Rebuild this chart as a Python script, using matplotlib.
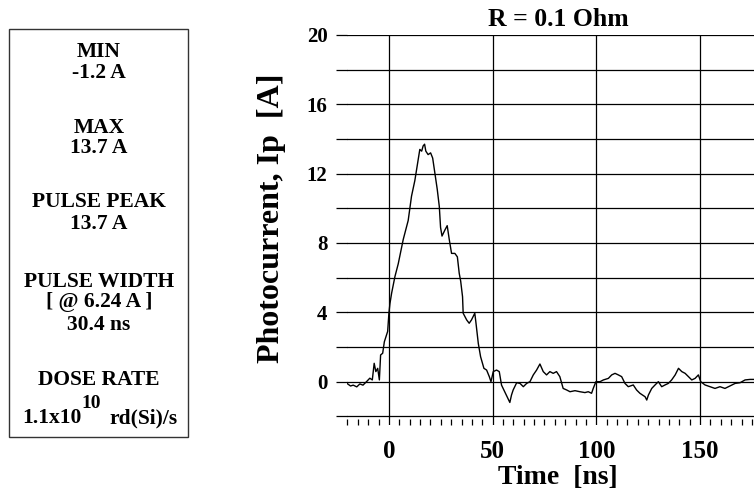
import matplotlib
matplotlib.use("Agg")
import matplotlib.pyplot as plt
from matplotlib.patches import Rectangle
from matplotlib.ticker import MultipleLocator, FixedLocator

plt.rcParams['font.family'] = 'Liberation Serif'
plt.rcParams['font.weight'] = 'bold'

# photocurrent trace
time_ns = [-20.2, -18.5, -17.2, -15.5, -14.0, -12.5, -10.8, -9.2, -8.0, -7.1,
           -6.3, -5.4, -4.6, -4.0, -3.0, -2.2, -1.4, -0.6, 0.0, 0.5,
           1.3, 2.9, 4.5, 6.9, 9.3, 10.9, 12.5, 14.1, 14.9, 15.8,
           16.5, 17.2, 17.8, 18.9, 20.1, 21.1, 22.2, 23.3, 24.3, 24.9,
           25.6, 27.0, 28.1, 29.1, 30.2, 31.8, 33.0, 33.9, 34.6, 35.5,
           35.8, 37.5, 38.7, 39.8, 41.4, 41.9, 43.1, 44.2, 45.8, 47.1,
           48.4, 49.2, 50.3, 51.9, 53.2, 54.3, 55.9, 57.5, 58.3, 59.1,
           59.9, 61.6, 63.2, 64.8, 66.4, 68.0, 69.6, 71.2, 72.8, 74.4,
           76.0, 77.6, 79.2, 80.8, 82.4, 84.0, 85.7, 87.3, 89.7, 92.1,
           94.5, 96.1, 97.7, 98.5, 99.8, 101.8, 103.4, 105.8, 107.4, 109.0,
           110.6, 112.2, 113.8, 115.4, 117.8, 119.4, 121.0, 123.5, 124.3, 125.1,
           126.7, 128.3, 129.9, 131.5, 133.1, 134.7, 136.3, 138.0, 139.6, 141.2,
           142.8, 144.4, 146.0, 147.6, 149.2, 150.3, 152.4, 154.8, 157.2, 159.6,
           162.0, 164.4, 166.9, 169.3, 171.7, 174.1, 176.0]
current_a = [-0.1, -0.25, -0.2, -0.3, -0.13, -0.2, 0.0, 0.2, 0.1, 1.06,
             0.58, 0.77, 0.1, 1.54, 1.64, 2.3, 2.6, 2.9, 3.95, 4.5,
             5.1, 6.06, 6.8, 8.2, 9.3, 10.7, 11.6, 12.8, 13.4, 13.3,
             13.6, 13.7, 13.3, 13.1, 13.2, 12.9, 12.0, 11.1, 10.1, 8.9,
             8.4, 8.75, 9.0, 8.2, 7.4, 7.4, 7.2, 6.25, 5.8, 4.9,
             3.95, 3.56, 3.37, 3.56, 3.95, 3.46, 2.2, 1.44, 0.77, 0.67,
             0.29, 0.0, 0.58, 0.67, 0.58, -0.2, -0.6, -1.0, -1.2, -0.77,
             -0.48, -0.06, -0.1, -0.29, -0.1, 0.0, 0.39, 0.67, 1.02, 0.58,
             0.39, 0.58, 0.48, 0.58, 0.29, -0.39, -0.48, -0.58, -0.52, -0.58,
             -0.63, -0.58, -0.67, -0.39, 0.0, 0.0, 0.1, 0.19, 0.39, 0.48,
             0.39, 0.29, -0.1, -0.29, -0.19, -0.48, -0.67, -0.87, -1.06, -0.77,
             -0.39, -0.19, 0.0, -0.29, -0.19, -0.1, 0.1, 0.39, 0.77, 0.58,
             0.48, 0.29, 0.1, 0.19, 0.39, 0.0, -0.19, -0.29, -0.39, -0.29,
             -0.39, -0.25, -0.1, -0.06, 0.1, 0.13, 0.13]

y_major = [0, 4, 8, 12, 16, 20]
y_minor = [-2, 2, 6, 10, 14, 18]
x_major = [0, 50, 100, 150]

summary_lines = [("MIN", 52), ("-1.2 A", 73),
                 ("MAX", 128), ("13.7 A", 148),
                 ("PULSE PEAK", 202), ("13.7 A", 224),
                 ("PULSE WIDTH", 282), ("[ @ 6.24 A ]", 302), ("30.4 ns", 325),
                 ("DOSE RATE", 380)]

W, H = 754, 495
fig = plt.figure(figsize=(W / 100, H / 100), dpi=100)
ax = fig.add_axes([347 / W, 1 - 425 / H, (W - 347) / W, 390 / H])

ax.plot(time_ns, current_a, color='black', lw=1.0)

ax.set_xlim(-20.2, 176)
ax.set_ylim(-2.5, 20)
for s in ax.spines.values():
    s.set_visible(False)

ax.xaxis.set_major_locator(FixedLocator(x_major))
ax.xaxis.set_minor_locator(MultipleLocator(5))
ax.yaxis.set_major_locator(FixedLocator(y_major))
ax.yaxis.set_minor_locator(FixedLocator(y_minor))

ax.grid(axis='x', which='major', color='black', lw=0.9)
ax.grid(axis='y', which='both', color='black', lw=0.9)

ax.tick_params(axis='x', which='major', length=0, pad=11, labelsize=18)
ax.tick_params(axis='x', which='minor', direction='in', length=4.5, width=0.9)
ax.tick_params(axis='y', which='both', direction='out', length=8, width=0.9,
               pad=6, labelsize=15)
for lab in ax.get_xticklabels() + ax.get_yticklabels():
    lab.set_fontweight('bold')

fig.text(558 / W, 1 - 19 / H, "R = 0.1 Ohm", ha='center', va='center',
         fontsize=18.5, fontweight='bold')
fig.text(558 / W, 1 - 478 / H, "Time  [ns]", ha='center', va='center',
         fontsize=20, fontweight='bold')
fig.text(271 / W, 1 - 218 / H, "Photocurrent, Ip  [A]", ha='center', va='center',
         rotation=90, fontsize=23, fontweight='bold')

# summary box on the left
fig.patches.append(Rectangle((9 / W, 1 - 437 / H), 179 / W, 408 / H,
                             transform=fig.transFigure, fill=False,
                             edgecolor='#333333', lw=1.0))
for txt, yp in summary_lines:
    fig.text(99 / W, 1 - yp / H, txt, ha='center', va='center',
             fontsize=15.5, fontweight='bold')
fig.text(22 / W, 1 - 418 / H, "1.1x10", ha='left', va='center',
         fontsize=15.5, fontweight='bold')
fig.text(81 / W, 1 - 403 / H, "10", ha='left', va='center',
         fontsize=14, fontweight='bold')
fig.text(109 / W, 1 - 418 / H, "rd(Si)/s", ha='left', va='center',
         fontsize=15.5, fontweight='bold')

fig.savefig("out.png", dpi=100)
